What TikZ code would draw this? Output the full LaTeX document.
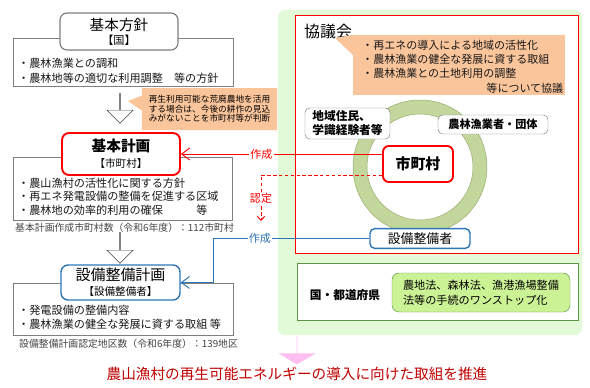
\documentclass[tikz,border=0pt]{standalone}
\usepackage{fontspec}
\setmainfont{Noto Sans CJK JP}
\usetikzlibrary{arrows.meta, positioning, shapes.arrows, shapes.callouts}
\definecolor{grayMid}{RGB}{127,127,127}
\definecolor{grayText}{RGB}{70,70,70}
\definecolor{redMain}{RGB}{255,0,0}
\definecolor{redDark}{RGB}{192,0,0}
\definecolor{blueMain}{RGB}{46,117,182}
\definecolor{orangeSoft}{RGB}{250,197,155}
\definecolor{greenBg}{RGB}{226,250,216}
\definecolor{greenRing}{RGB}{195,214,155}
\definecolor{greenRingEdge}{RGB}{150,170,110}
\definecolor{greenLine}{RGB}{90,150,70}
\definecolor{greenLight}{RGB}{204,242,150}
\definecolor{pinkArrow}{RGB}{255,190,240}

\begin{document}
\begin{tikzpicture}[x=0.03cm, y=-0.03cm,
  body/.style={rectangle, draw=grayMid, fill=white, inner sep=0pt},
  head/.style={rectangle, rounded corners=6pt, fill=white, align=center,
    inner sep=0pt, font=\fontsize{9}{11.5}\selectfont},
  txt/.style={anchor=west, align=left, inner sep=0pt, text=black!90,
    font=\fontsize{9.5}{12}\selectfont},
  note/.style={anchor=west, inner sep=0pt, text=grayText,
    font=\fontsize{8.4}{10}\selectfont},
  member/.style={rectangle, rounded corners=4pt, draw=grayMid, fill=white,
    align=left, inner sep=0pt, font=\fontsize{9.5}{12}\selectfont\bfseries},
  hollow/.style={single arrow, shape border rotate=270, draw=black!75,
    fill=white, inner sep=0pt, minimum width=0.78cm,
    single arrow head extend=0.25cm, anchor=tail},
  arr/.style={-{Straight Barb[length=2.4mm, width=3.6mm]}, thick},
  lbl/.style={fill=white, inner sep=1pt, font=\fontsize{9.4}{11}\selectfont},
]
\fill[white] (0,0) rectangle (590,387);
% right side: council
\node[rectangle, rounded corners=6pt, fill=greenBg, minimum width=9.12cm,
  minimum height=9.75cm] (kyogiBg) at (430,172.5) {};
\node[rectangle, draw=redMain, fill=white, minimum width=8.49cm,
  minimum height=7.14cm] (kyogiFrame) at (436.5,134) {};
\node[anchor=west, inner sep=0pt, font=\fontsize{13.6}{16}\selectfont]
  (kyogiTitle) at (304,31) {協議会};
\node[rectangle, fill=orangeSoft, minimum width=6.36cm, minimum height=1.8cm]
  (kyogiNote) at (459,65) {};
\fill[orangeSoft] (kyogiNote.north west) -- (335,38)
  -- ([yshift=-0.6cm]kyogiNote.north west) -- cycle;
\node[txt, text width=6.03cm, font=\fontsize{9.4}{12.2}\selectfont]
  (kyogiTxt) at (362,66.5)
  {・再エネの導入による地域の活性化\\・農林漁業の健全な発展に資する取組\\
   ・農林漁業との土地利用の調整\\\mbox{}\hfill 等について協議};
\draw[draw=greenRingEdge, fill=greenRing, even odd rule]
  (420,167) circle[radius=2.01cm] circle[radius=1.59cm];
\node[member, minimum width=2.55cm, minimum height=0.93cm,
  font=\fontsize{10}{12}\selectfont\bfseries] (chiiki) at (347.5,123.5)
  {地域住民、\\学識経験者等};
\node[member, minimum width=3.3cm, minimum height=0.57cm] (noringyo)
  at (493,124.5) {農林漁業者・団体};
\node[rectangle, rounded corners=5pt, draw=redMain, line width=1.6pt,
  fill=white, minimum width=2.1cm, minimum height=1.08cm,
  font=\fontsize{12.7}{14}\selectfont\bfseries] (shichoson) at (418,164) {市町村};
\node[rectangle, rounded corners=4pt, draw=blueMain, line width=1.2pt,
  fill=white, minimum width=3cm, minimum height=0.57cm,
  font=\fontsize{11}{13}\selectfont] (setsubiSha) at (420,238.5) {設備整備者};
% prefecture block
\node[rectangle, draw=greenLine, fill=white, minimum width=8.43cm,
  minimum height=1.71cm] (kenFrame) at (437.5,291.5) {};
\node[inner sep=0pt, font=\fontsize{10}{12}\selectfont\bfseries]
  (kenLabel) at (345,295) {国・都道府県};
\node[rectangle, rounded corners=6pt, draw=greenLine, fill=greenLight,
  minimum width=5.34cm, minimum height=1.17cm, align=left,
  font=\fontsize{9.5}{12.8}\selectfont] (kenNote) at (481,292.5)
  {農地法、森林法、漁港漁場整備\\法等の手続のワンストップ化};
% left side: plans
\node[body, minimum width=6.6cm, minimum height=1.44cm] (housinBody) at (123,62) {};
\node[head, draw=grayMid, line width=1pt, minimum width=3.54cm,
  minimum height=1.11cm, font=\fontsize{9.5}{12}\selectfont] (housinHead)
  at (119,31.5) {{\fontsize{12.5}{12}\selectfont 基本方針}\\【国】};
\node[txt, font=\fontsize{9.5}{12.8}\selectfont] (housinTxt) at (18,70.5)
  {・農林漁業との調和\\・農林地等の適切な利用調整　等の方針};
\node[hollow, minimum height=0.9cm] (arrowA) at (120,93) {};
\node[rectangle callout, fill=orangeSoft, minimum width=4.05cm,
  minimum height=1.26cm, callout absolute pointer={(128,101)},
  callout pointer width=0.45cm, align=left, inner sep=0pt,
  font=\fontsize{7.4}{8.3}\selectfont] (saiseiNote) at (209.5,109)
  {再生利用可能な荒廃農地を活用\\する場合は、今後の耕作の見込\\みがないことを市町村等が判断};
\node[body, minimum width=6.57cm, minimum height=1.89cm] (kihonBody) at (122.5,188.5) {};
\node[head, draw=redMain, line width=1.6pt, minimum width=3.54cm,
  minimum height=1.26cm, font=\fontsize{9}{13.7}\selectfont] (kihonHead)
  at (121,154) {{\fontsize{12.5}{13.7}\selectfont\bfseries 基本計画}\\【市町村】};
\node[txt, font=\fontsize{9.5}{11.5}\selectfont] (kihonTxt) at (18,196.5)
  {・農山漁村の活性化に関する方針\\・再エネ発電設備の整備を促進する区域\\
   ・農林地の効率的利用の確保　　　等};
\node[note] (kihonCount) at (15,228) {基本計画作成市町村数（令和6年度）：112市町村};
\node[hollow, minimum height=0.93cm] (arrowB) at (120,232) {};
\node[body, minimum width=6.6cm, minimum height=1.56cm] (setsubiBody) at (123,309) {};
\node[head, draw=blueMain, line width=1.2pt, minimum width=3.57cm,
  minimum height=1.05cm, font=\fontsize{9}{12.8}\selectfont] (setsubiHead)
  at (120.5,282.5) {{\fontsize{12.8}{12.8}\selectfont 設備整備計画}\\【設備整備者】};
\node[txt] (setsubiTxt) at (18,317)
  {・発電設備の整備内容\\・農林漁業の健全な発展に資する取組 等};
\node[note] (setsubiCount) at (19,344) {設備整備計画認定地区数（令和6年度）：139地区};
% connectors
\draw[arr, draw=redMain] (kihonHead.east -| shichoson.west)
  -- node[lbl, text=redMain, pos=0.6]{作成} (kihonHead.east);
\coordinate (ninteiEnd) at (261,221);
\draw[thick, draw=redMain, dash pattern=on 3pt off 2pt,
  -{Straight Barb[length=1.2mm, width=2.2mm]}]
  ([yshift=-0.33cm]shichoson.west) -| node[lbl, text=redMain, pos=0.75]{認定} (ninteiEnd);
\coordinate (blueTurn) at (213,0 |- setsubiHead.east);
\draw[arr, draw=blueMain] (setsubiSha.west)
  -| node[lbl, text=blueMain, pos=0.35]{作成} (blueTurn) -- (setsubiHead.east);
% outcome
\node[single arrow, shape border rotate=270, fill=pinkArrow, inner sep=0pt,
  minimum height=0.84cm, minimum width=1.14cm, single arrow head extend=0.27cm,
  single arrow tip angle=120, anchor=tail] (suishinArrow) at (297,336) {};
\node[text=redDark, font=\fontsize{12.5}{14}\selectfont] (suishin) at (297,374)
  {農山漁村の再生可能エネルギーの導入に向けた取組を推進};
\end{tikzpicture}
\end{document}
